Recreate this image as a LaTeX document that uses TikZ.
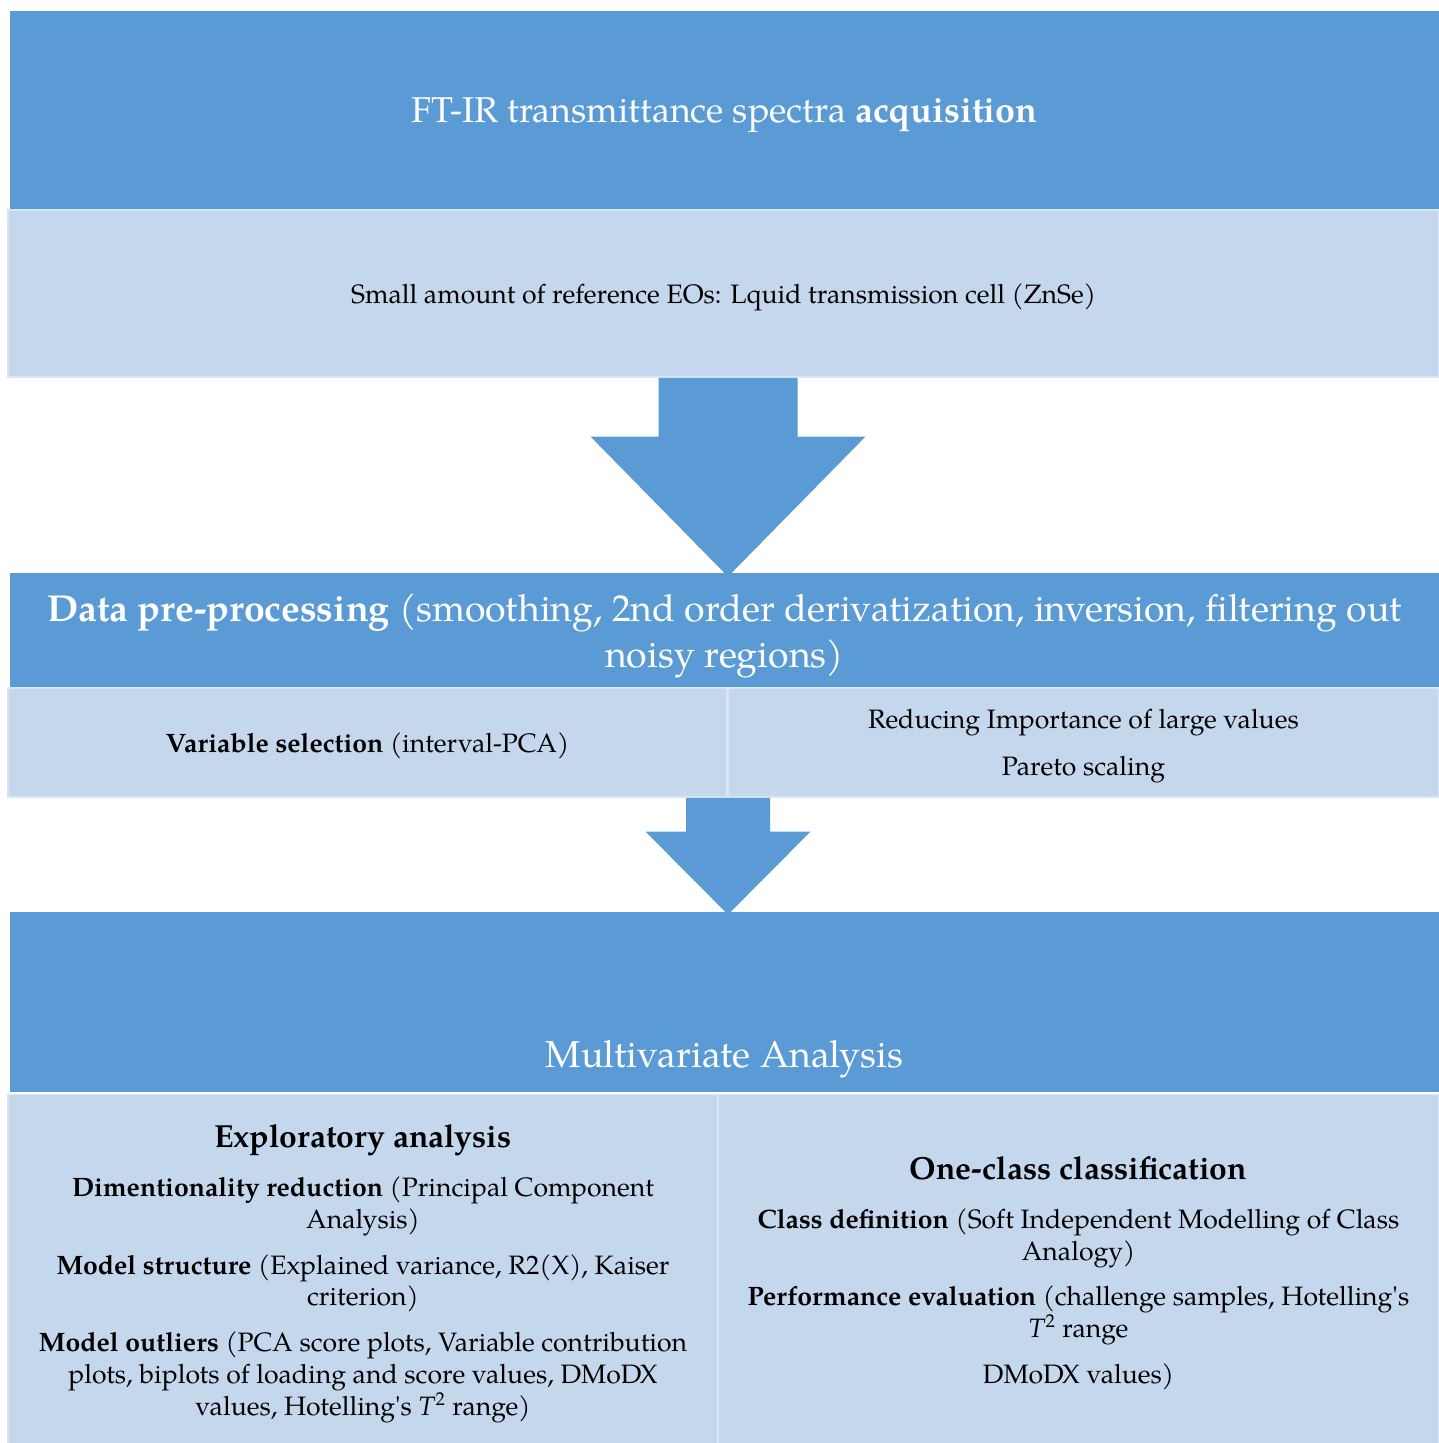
\documentclass[tikz,border=0pt]{standalone}
\usepackage{fontspec}
\setmainfont{TeX Gyre Pagella}
\usetikzlibrary{calc, positioning}
\definecolor{darkblue}{HTML}{5B9BD5}
\definecolor{lightblue}{HTML}{C5D7EC}
\definecolor{edgeblue}{HTML}{DAE5F2}
\newcommand{\bodyfont}{\fontsize{13.35}{16}\selectfont}
\newcommand{\headfont}{\fontsize{16}{19}\selectfont}
\newcommand{\titlefont}{\fontsize{18.8}{23.5}\selectfont}

\begin{document}
\begin{tikzpicture}[
        x = 0.5bp, y = -0.5bp,
        headbox/.style = {rectangle, fill=darkblue, text=white, inner sep=0pt, text depth=0pt, align=center, font=\titlefont},
        subbox/.style = {rectangle, fill=lightblue, draw=edgeblue, line width=0.8bp, inner sep=0pt, text depth=0pt, align=center, font=\bodyfont},
        blockarrow/.style = {fill=darkblue}
        ]
        \useasboundingbox (0,0) rectangle (1439,1443);

        \node[headbox, minimum width=714.5bp, minimum height=99bp, font=\fontsize{18}{22}\selectfont] (acq) at (724.5,110) {FT-IR transmittance spectra \textbf{acquisition}};
        \node[subbox, minimum width=715.5bp, minimum height=83.5bp] (refeo) at (723.5,293.5) {Small amount of reference EOs: Lquid transmission cell (ZnSe)};
        \node[headbox, minimum width=714.5bp, minimum height=57.5bp] (prep) at (724.5,630.5) {\textbf{Data pre-processing} (smoothing, 2nd order derivatization, inversion, filtering out\\noisy regions)};
        \node[subbox, minimum width=359.5bp, minimum height=54.5bp] (varsel) at (367.5,742.5) {\textbf{Variable selection} (interval-PCA)};
        \node[subbox, minimum width=355.5bp, minimum height=54.5bp] (scaling) at (1083.5,742.5) {Reducing Importance of large values\\[7.5bp]Pareto scaling};
        \node[headbox, minimum width=714.5bp, minimum height=90bp,
              label={[anchor=center, yshift=16.5bp, text=white, font=\titlefont]south:Multivariate Analysis}] (mva) at (724.5,1002) {};
        \node[subbox, minimum width=355bp, minimum height=175.5bp] (explo) at (363,1270) {{\headfont\textbf{Exploratory analysis}}\\[8.5bp]
            \textbf{Dimentionality reduction} (Principal Component\\Analysis)\\[7bp]
            \textbf{Model structure} (Explained variance, R2(X), Kaiser\\criterion)\\[7bp]
            \textbf{Model outliers} (PCA score plots, Variable contribution\\plots, biplots of loading and score values, DMoDX\\values, Hotelling\textquotesingle s \textit{T}\textsuperscript{2} range)};
        \node[subbox, minimum width=360.5bp, minimum height=175.5bp] (occ) at (1078.5,1270) {{\headfont\textbf{One-class classification}}\\[8.5bp]
            \textbf{Class definition} (Soft Independent Modelling of Class\\Analogy)\\[7bp]
            \textbf{Performance evaluation} (challenge samples, Hotelling\textquotesingle s\\\textit{T}\textsuperscript{2} range\\[7bp]
            DMoDX values)};

        % block arrows between the stages
        \path (prep.north) ++(3.5,4) coordinate (tip1);
        \path (mva.north) ++(3.5,3) coordinate (tip2);
        \fill[blockarrow] (tip1) -- ++(137.5,-140) -- ++(-68,0) -- ($(tip1 |- refeo.south)+(69.5,0)$)
            -- ++(-139,0) -- ($(tip1)+(-69.5,-140)$) -- ++(-68,0) -- cycle;
        \fill[blockarrow] (tip2) -- ++(82.5,-83) -- ++(-40.5,0) -- ($(tip2 |- varsel.south)+(42,0)$)
            -- ++(-84,0) -- ($(tip2)+(-42,-83)$) -- ++(-40.5,0) -- cycle;

\end{tikzpicture}
\end{document}
